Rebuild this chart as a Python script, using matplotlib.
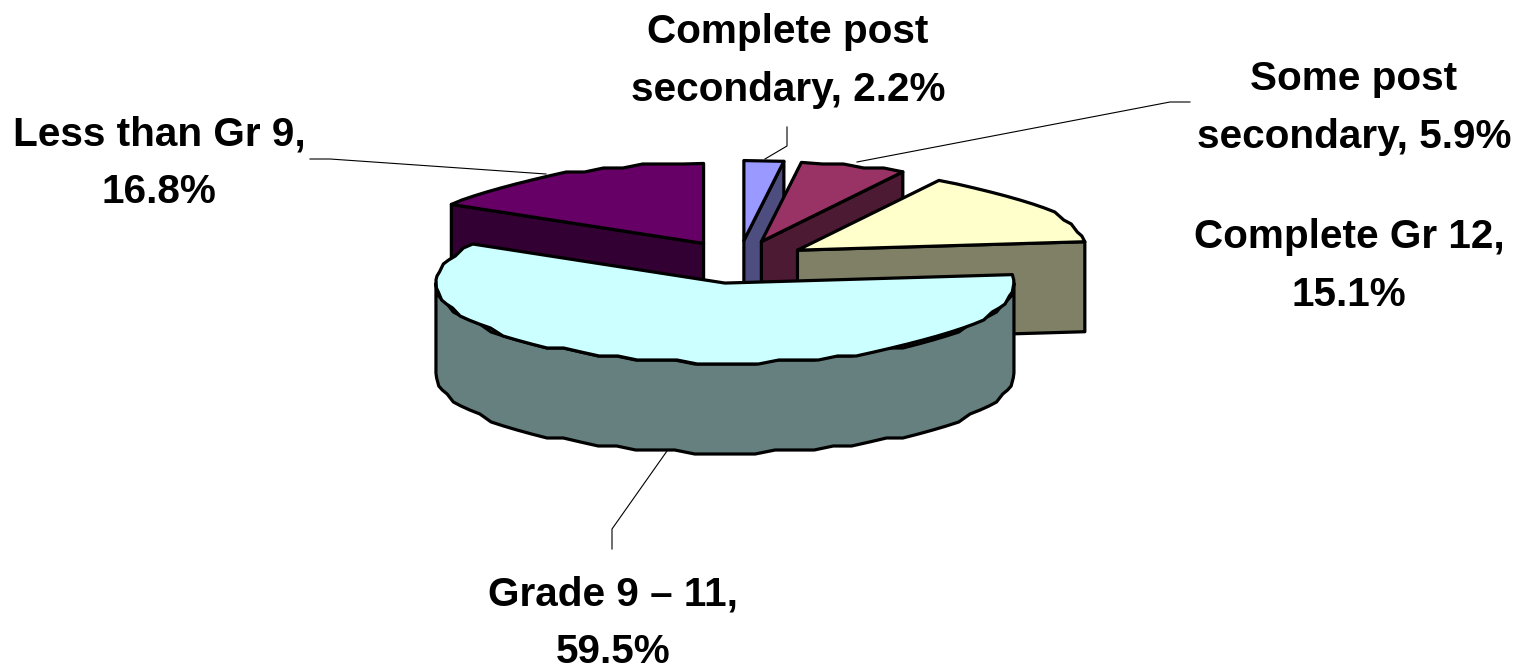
import numpy as np
import matplotlib
matplotlib.use("Agg")
import matplotlib.pyplot as plt

# clockwise from 12 o'clock
categories = ["Complete post\nsecondary", "Some post\nsecondary", "Complete Gr 12",
              "Grade 9 \u2013 11", "Less than Gr 9"]
values = [2.2, 5.9, 15.1, 59.5, 16.8]
line_breaks = [" ", " ", "\n", "\n", "\n"]

top_colors = ["#9999FF", "#993366", "#FFFFCC", "#CCFFFF", "#660066"]
side_colors = ["#4D4D80", "#4D1A33", "#808066", "#668080", "#330033"]
draw_order = [0, 1, 2, 4, 3]

# layout in pixels
cx, cy = 739, 262
a, b = 289, 80
depth = 90
ex, ey = 70, 21.5
snap = 4  # the source outline sits on a coarse grid, gives the wobbly edge

label_pos = [(788, 61), (1354, 108), (1349, 266), (613, 623), (159, 163)]
leaders = [
    [(765, 159), (787, 146), (787, 127)],
    [(857, 162), (1170, 102), (1190, 102)],
    None,
    [(667, 451), (612, 529), (612, 549)],
    [(546, 174), (330, 159), (310, 159)],
]

plt.rcParams["font.family"] = ["Liberation Sans", "DejaVu Sans"]
fig = plt.figure(figsize=(15.27, 6.69), dpi=100)
ax = fig.add_axes([0, 0, 1, 1])
ax.set_xlim(0, 1527)
ax.set_ylim(669, 0)
ax.axis("off")


def rim(x0, y0, t):
    t = np.radians(t)
    return np.column_stack([x0 + a * np.sin(t), y0 - b * np.cos(t)])


def rough_arc(x0, y0, t0, t1):
    # ends stay exact so the cut walls still meet the rim
    n = max(2, int(abs(t1 - t0) / 4) + 1)
    pts = rim(x0, y0, np.linspace(t0, t1, n))
    pts[1:-1, 1] = np.round(pts[1:-1, 1] / snap) * snap
    return pts


style = dict(edgecolor="black", linewidth=2.3, joinstyle="round")
edges = np.cumsum([0] + values) / sum(values) * 360

for i in draw_order:
    t0, t1 = edges[i], edges[i + 1]
    mid = np.radians((t0 + t1) / 2)
    x0 = cx + ex * np.sin(mid)
    y0 = cy - ey * np.cos(mid)
    apex = np.array([x0, y0])
    down = np.array([0, depth])

    # cut walls
    for t in (t0, t1):
        visible = np.sin(np.radians(t)) < 0 if t == t0 else np.sin(np.radians(t)) > 0
        if visible:
            tip = rim(x0, y0, [t])[0]
            ax.fill(*zip(apex, tip, tip + down, apex + down), facecolor=side_colors[i], **style)

    # outer wall, only the front half of the ellipse shows
    lo, hi = max(t0, 90), min(t1, 270)
    if lo < hi:
        pts = rough_arc(x0, y0, lo, hi)
        ax.fill(*np.vstack([pts, pts[::-1] + down]).T, facecolor=side_colors[i], **style)

    # top face
    pts = rough_arc(x0, y0, t0, t1)
    ax.fill(*np.vstack([apex, pts]).T, facecolor=top_colors[i], **style)

for leader in leaders:
    if leader:
        ax.plot(*zip(*leader), color="black", lw=0.8)

for name, value, brk, pos in zip(categories, values, line_breaks, label_pos):
    ax.text(pos[0], pos[1], f"{name},{brk}{value}%", ha="center", va="center",
            fontsize=29.2, fontweight="bold", linespacing=1.66)

fig.savefig("out.png", dpi=100)
